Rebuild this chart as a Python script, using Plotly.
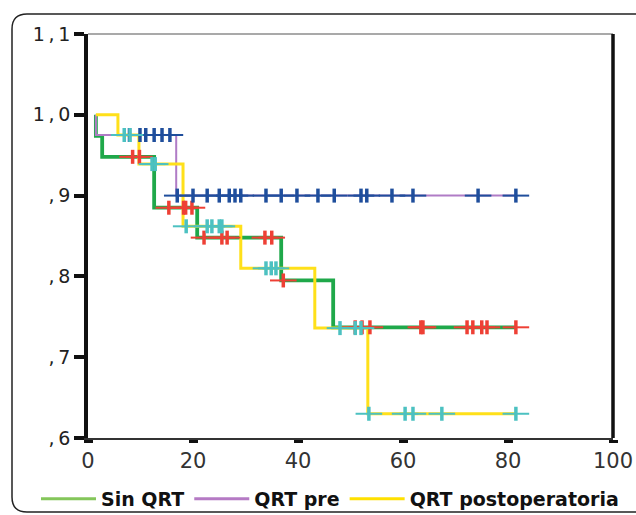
import plotly.graph_objects as go

# ---------------- data ----------------
# Kaplan-Meier step curves: event times (months) and survival after each step
sin_times = [1.5, 1.5, 2.7, 12.6, 20.8, 36.8, 46.7]
sin_surv = [1.0, 0.974, 0.948, 0.885, 0.848, 0.795, 0.737]
sin_cens = [8.5, 9.8, 15.4, 18.2, 18.6, 19.8, 22.1, 25.5, 26.5, 33.7, 35.0, 37.2,
            50.9, 52.2, 53.7, 63.4, 63.8, 72.2, 73.3, 75.0, 76.0, 81.5]

pre_times = [1.5, 1.5, 16.8]
pre_surv = [1.0, 0.975, 0.9]
pre_cens = [7.9, 9.9, 11.0, 12.6, 14.1, 15.6, 17.0, 20.0, 22.7, 25.0, 26.9, 28.0,
            29.1, 33.9, 36.8, 39.8, 43.8, 46.9, 52.0, 53.1, 57.9, 61.9, 74.3, 81.5]

post_times = [1.5, 5.7, 9.7, 18.1, 29.1, 43.2, 53.3]
post_surv = [1.0, 0.975, 0.939, 0.862, 0.81, 0.736, 0.63]
post_cens = [6.9, 8.0, 12.2, 12.8, 18.7, 22.7, 23.6, 25.0, 25.5, 33.9, 34.9, 35.8,
             48.0, 50.9, 52.0, 53.5, 60.4, 61.9, 67.4, 81.5]

names = ["Sin QRT", "QRT pre", "QRT postoperatoria"]
x_ticks = [0, 20, 40, 60, 80, 100]
y_ticks = [0.6, 0.7, 0.8, 0.9, 1.0, 1.1]
y_ticktext = ["\u2009,\u20096", "\u2009,\u20097", "\u2009,\u20098", "\u2009,\u20099",
              "1\u2009,\u20090", "1\u2009,\u20091"]

# ---------------- styles ----------------
line_cols = ["#1fa84a", "#b07cc6", "#ffe01a"]
legend_cols = ["#84c65a", "#b57ac4", "#ffe000"]
cens_cols = ["#ee4035", "#1f4e9c", "#4cc1c1"]
line_w = [3.8, 2, 3]


def step_value(times, surv, t):
    v = surv[0]
    for tt, s in zip(times, surv):
        if tt <= t:
            v = s
    return v


fig = go.Figure()
groups = [(sin_times, sin_surv, sin_cens), (pre_times, pre_surv, pre_cens),
          (post_times, post_surv, post_cens)]

for i, (t, s, c) in enumerate(groups):
    xs = list(t) + [max(c)]
    ys = list(s) + [s[-1]]
    fig.add_trace(go.Scatter(x=xs, y=ys, mode="lines", line_shape="hv",
                             line=dict(color=line_cols[i], width=line_w[i]),
                             showlegend=False, hoverinfo="skip"))

for i, (t, s, c) in enumerate(groups):
    cy = [step_value(t, s, v) for v in c]
    fig.add_trace(go.Scatter(x=c, y=cy, mode="markers", showlegend=False,
                             marker=dict(symbol="line-ew", size=19,
                                         line=dict(color=cens_cols[i], width=2))))
    fig.add_trace(go.Scatter(x=c, y=cy, mode="markers", showlegend=False,
                             marker=dict(symbol="line-ns", size=10,
                                         line=dict(color=cens_cols[i], width=3.5))))

for i, n in enumerate(names):
    fig.add_trace(go.Scatter(x=[None], y=[None], mode="lines", name=n,
                             line=dict(color=legend_cols[i], width=3)))

W, H = 636, 515
L, R, T, B = 88, 23, 34, 77
pw, ph = W - L - R, H - T - B


def pp(x, y):
    # page pixel -> paper coordinates
    return (x - L) / pw, (H - B - y) / ph


# rounded outer border
bx0, by0, bx1, by1, rad = 12, 14, 650, 512, 15
def P(x, y):
    a, b = pp(x, y)
    return f"{a:.5f},{b:.5f}"
path = (f"M {P(bx0 + rad, by0)} L {P(bx1 - rad, by0)} Q {P(bx1, by0)} {P(bx1, by0 + rad)} "
        f"L {P(bx1, by1 - rad)} Q {P(bx1, by1)} {P(bx1 - rad, by1)} "
        f"L {P(bx0 + rad, by1)} Q {P(bx0, by1)} {P(bx0, by1 - rad)} "
        f"L {P(bx0, by0 + rad)} Q {P(bx0, by0)} {P(bx0 + rad, by0)} Z")

shapes = [
    dict(type="path", xref="paper", yref="paper", path=path,
         line=dict(color="#222222", width=1.5), layer="below"),
    dict(type="line", xref="paper", yref="paper", x0=0, x1=1, y0=1, y1=1,
         line=dict(color="#555555", width=1.2)),
    dict(type="line", xref="paper", yref="paper", x0=1, x1=1, y0=0, y1=1,
         line=dict(color="#111111", width=3.5)),
]

lx, ly = pp(36, 480)

fig.update_layout(
    width=W, height=H,
    margin=dict(l=L, r=R, t=T, b=B, autoexpand=False),
    paper_bgcolor="white", plot_bgcolor="white",
    shapes=shapes,
    showlegend=True,
    legend=dict(orientation="h", x=lx, y=ly, xanchor="left", yanchor="top",
                font=dict(family="DejaVu Sans", size=19, color="#111111", weight="bold"),
                itemwidth=55, tracegroupgap=0, bgcolor="rgba(0,0,0,0)"),
    xaxis=dict(range=[0, 100], tickvals=x_ticks, ticktext=[str(v) for v in x_ticks],
               showgrid=False, zeroline=False, showline=True,
               linecolor="#333333", linewidth=1.5,
               ticks="outside", ticklen=3, tickwidth=9, tickcolor="#111111",
               tickfont=dict(family="DejaVu Sans", size=21, color="#333333")),
    yaxis=dict(range=[0.6, 1.1], tickvals=y_ticks, ticktext=y_ticktext,
               showgrid=False, zeroline=False, showline=True,
               linecolor="#111111", linewidth=3.5,
               ticks="outside", ticklen=10, tickwidth=4, tickcolor="#111111",
               tickfont=dict(family="DejaVu Sans", size=19, color="#222222")),
)

fig.write_html(
    "out.html",
    config={"displayModeBar": False},
    post_script="document.body.style.margin='0';document.body.style.overflow='hidden';",
)
